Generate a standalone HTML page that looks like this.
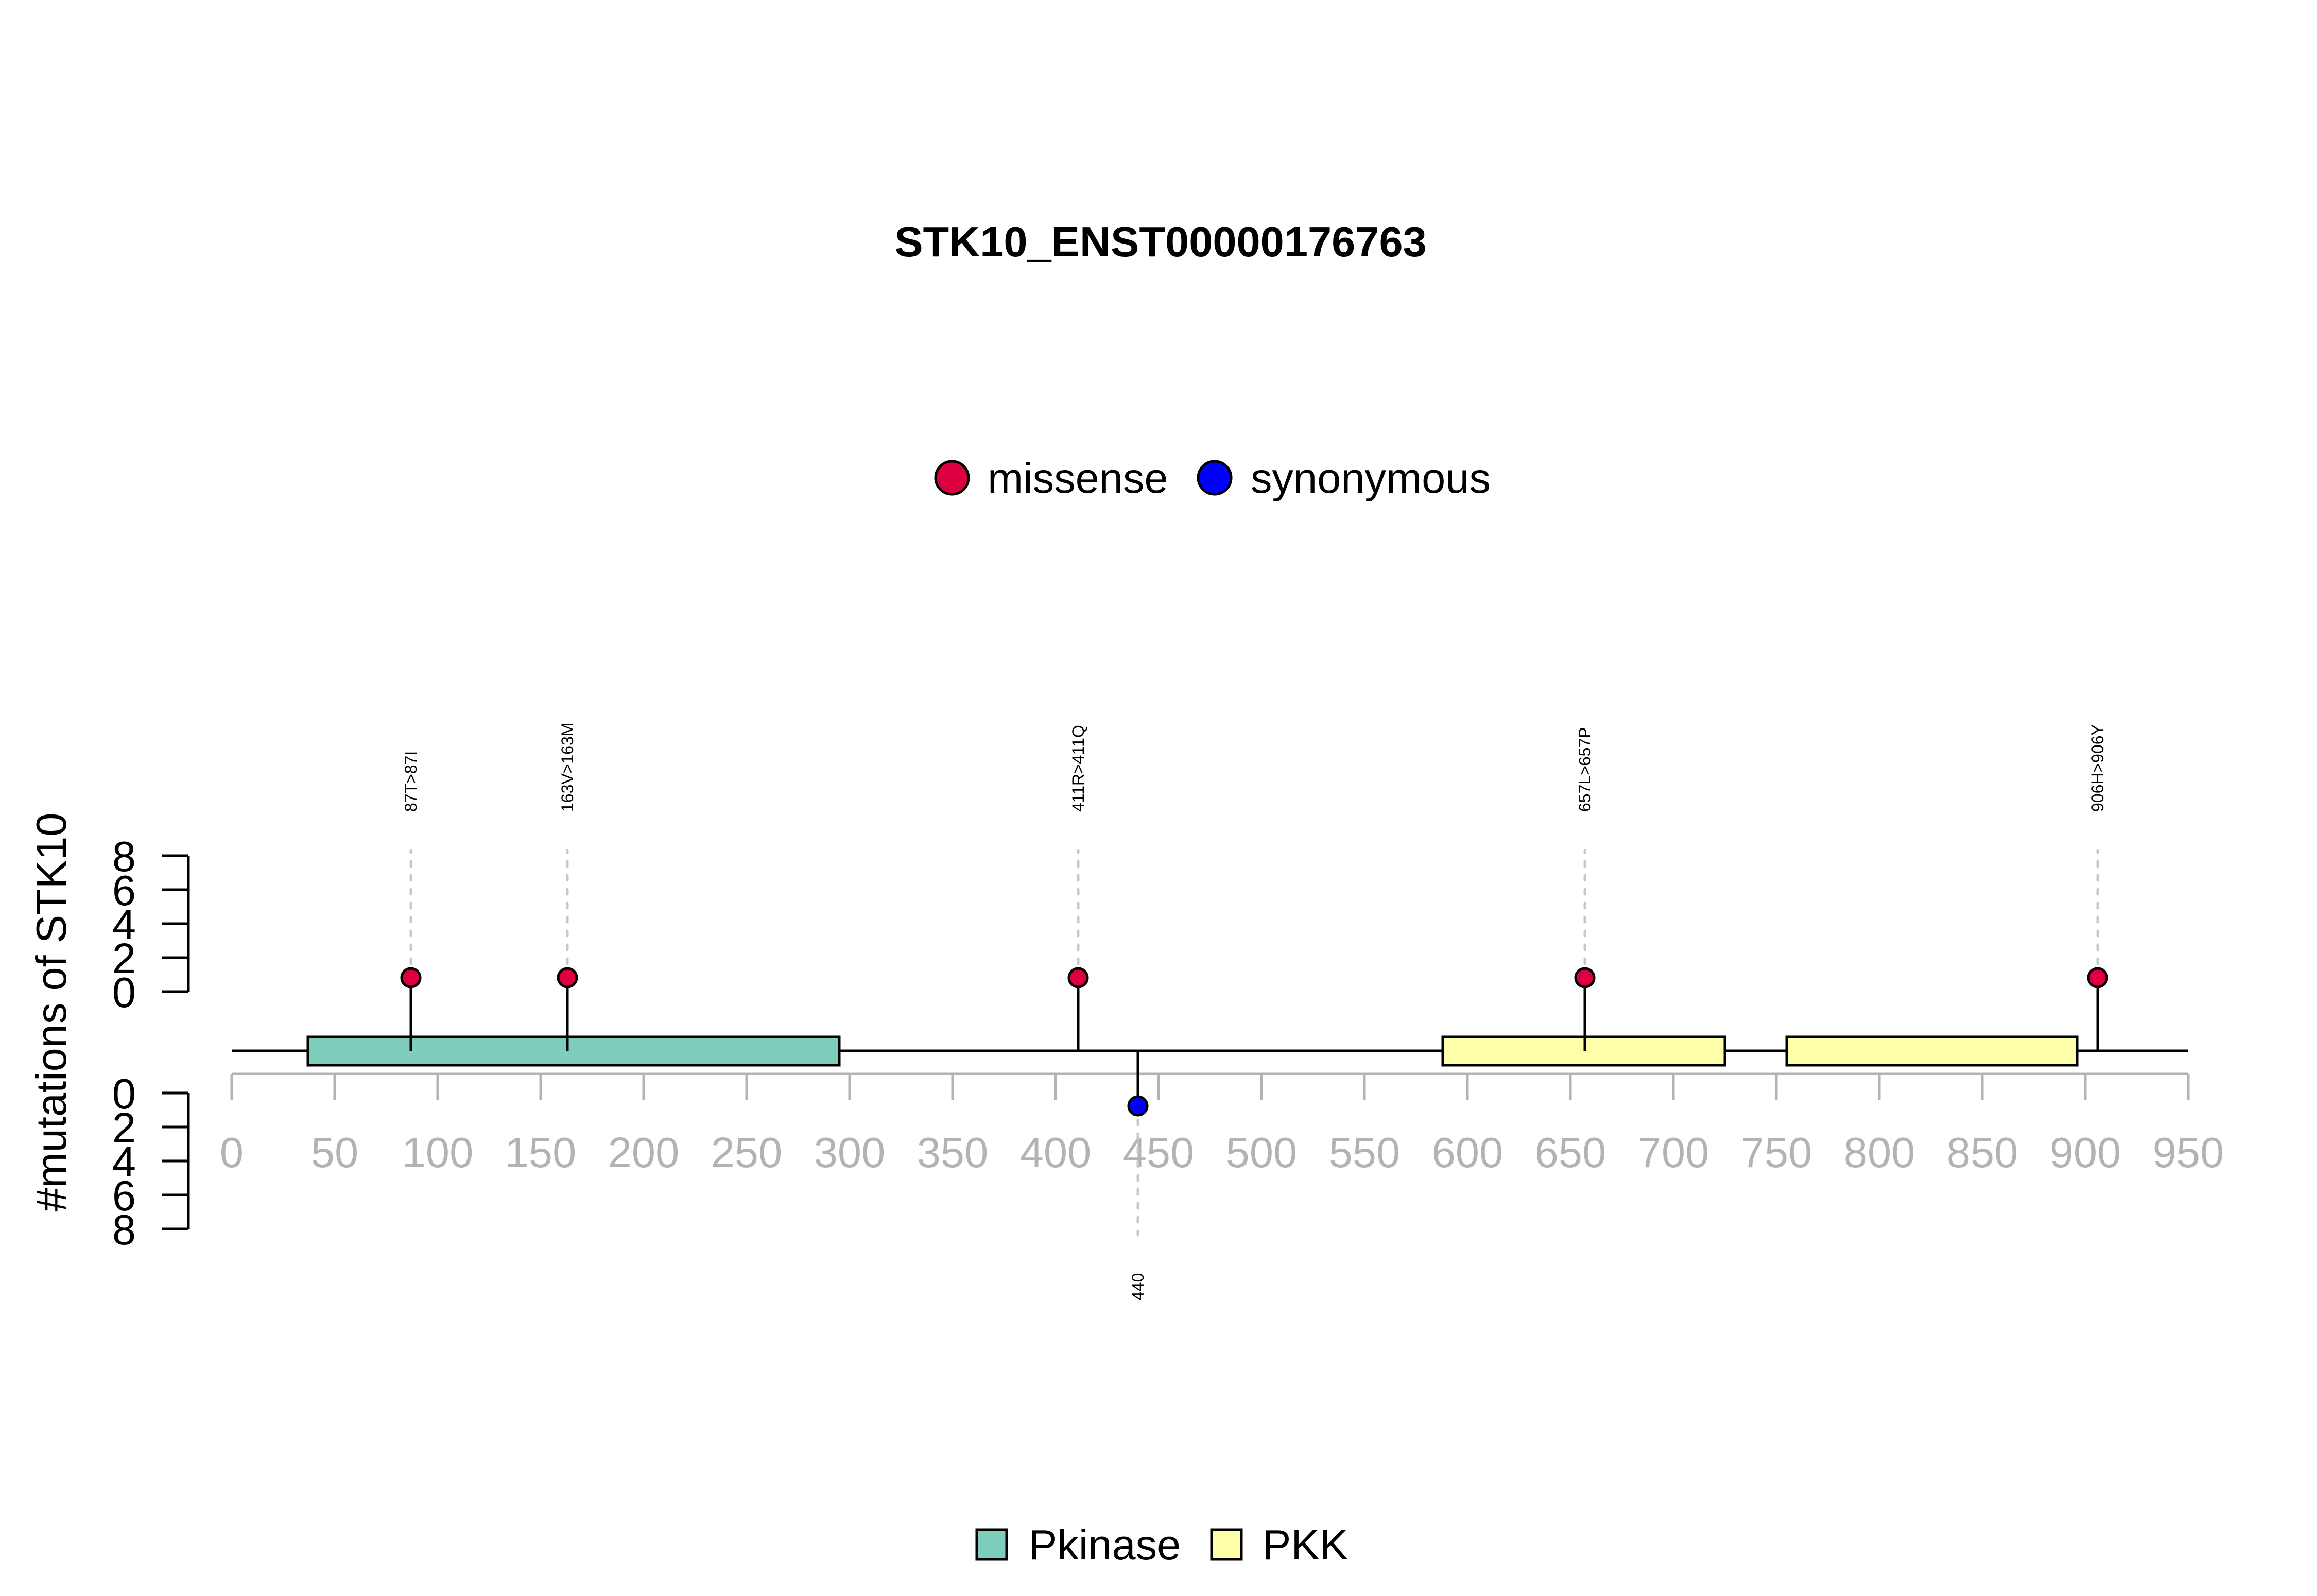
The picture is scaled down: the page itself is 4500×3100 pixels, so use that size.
<!DOCTYPE html>
<html><head><meta charset="utf-8"><style>
html,body{margin:0;padding:0;background:#fff;}
svg{display:block;font-family:"Liberation Sans",Arial,sans-serif;}
</style></head><body>
<svg id="chart" width="4500" height="3100" viewBox="0 0 4500 3100" xmlns="http://www.w3.org/2000/svg">
<rect width="4500" height="3100" fill="#fff"/>
<text x="2254" y="498" font-size="83" font-weight="bold" text-anchor="middle">STK10_ENST00000176763</text>
<g>
  <circle cx="1849" cy="928" r="32" fill="#DC0040" stroke="#000" stroke-width="5"/>
  <text x="1918" y="957" font-size="83">missense</text>
  <circle cx="2359" cy="928" r="32" fill="#0000FF" stroke="#000" stroke-width="5"/>
  <text x="2429" y="957" font-size="83">synonymous</text>
</g>
<g>
  <rect x="1897" y="2971" width="58" height="58" fill="#7FCDBB" stroke="#000" stroke-width="5"/>
  <text x="1998" y="3029" font-size="83">Pkinase</text>
  <rect x="2353" y="2971" width="58" height="58" fill="#FFFFAA" stroke="#000" stroke-width="5"/>
  <text x="2452" y="3029" font-size="83">PKK</text>
</g>
<text transform="translate(128,1966) rotate(-90)" font-size="83" text-anchor="middle">#mutations of STK10</text>
<g id="plot"></g>
</svg>
<script>
const domainNames = ["Pkinase","PKK","PKK"];
const domainStart = [37, 588, 755];
const domainEnd = [295, 725, 896];
const domainColors = ["#7FCDBB","#FFFFAA","#FFFFAA"];
const mutPos = [87, 163, 411, 657, 906, 440];
const mutCount = [1, 1, 1, 1, 1, 1];
const mutType = ["missense","missense","missense","missense","missense","synonymous"];
const mutLabel = ["87T>87I","163V>163M","411R>411Q","657L>657P","906H>906Y","440"];
const xTicks = [0,50,100,150,200,250,300,350,400,450,500,550,600,650,700,750,800,850,900,950];
const yTicks = [0,2,4,6,8];
const proteinLength = 950;

const NS = "http://www.w3.org/2000/svg";
const g = document.getElementById("plot");
const X0 = 450, PX = 4.0;
function xs(v){ return X0 + v*PX; }
const BACKBONE = 2041;
const UP0 = 1926, DOWN0 = 2123, UNIT = 33;
function yUp(v){ return UP0 - v*UNIT; }
function yDown(v){ return DOWN0 + v*UNIT; }
function mk(tag, attrs){ const e=document.createElementNS(NS,tag); for(const k in attrs) e.setAttribute(k,attrs[k]); g.appendChild(e); return e; }

// upper y axis
let e = mk("line",{x1:366,y1:yUp(0),x2:366,y2:yUp(8),stroke:"#000","stroke-width":5});


e = mk("line",{x1:366,y1:yDown(0),x2:366,y2:yDown(8),stroke:"#000","stroke-width":5});


yTicks.forEach(t=>{
  let l = mk("line",{x1:314,y1:yUp(t),x2:366,y2:yUp(t),stroke:"#000","stroke-width":5});
  
  
  let tx = mk("text",{x:241,y:yUp(t)+30,"font-size":83,"text-anchor":"middle"});
  tx.textContent = t;
  
  
  l = mk("line",{x1:314,y1:yDown(t),x2:366,y2:yDown(t),stroke:"#000","stroke-width":5});
  
  
  tx = mk("text",{x:241,y:yDown(t)+30,"font-size":83,"text-anchor":"middle"});
  tx.textContent = t;
  
  
});

// x axis
e = mk("line",{x1:xs(0),y1:2086,x2:xs(proteinLength),y2:2086,stroke:"#b3b3b3","stroke-width":5});


xTicks.forEach(t=>{
  const l = mk("line",{x1:xs(t),y1:2086,x2:xs(t),y2:2136,stroke:"#b3b3b3","stroke-width":5});
  
  
  const tx = mk("text",{x:xs(t),y:2267,"font-size":83,"text-anchor":"middle",fill:"#b3b3b3"});
  tx.textContent = t;
  
  
});

// backbone
e = mk("line",{x1:xs(0),y1:BACKBONE,x2:xs(proteinLength),y2:BACKBONE,stroke:"#000","stroke-width":5});



// domains
domainStart.forEach((s,i)=>{
  const r = mk("rect",{x:xs(s),y:2014,width:xs(domainEnd[i])-xs(s),height:55,fill:domainColors[i],stroke:"#000","stroke-width":5});
  
  
});

// mutations
mutPos.forEach((p,i)=>{
  const x = xs(p);
  const up = mutType[i]==="missense";
  const yDot = up ? yUp(mutCount[i]) + 6 : yDown(mutCount[i]) - 8;
  const dashEnd = up ? yUp(8) - 10 : yDown(8) + 12;
  const d = mk("line",{x1:x,y1:yDot,x2:x,y2:dashEnd,stroke:"#c8c8c8","stroke-width":5,"stroke-dasharray":"10 17","stroke-linecap":"round"});
  
  
  const s = mk("line",{x1:x,y1:BACKBONE,x2:x,y2:yDot,stroke:"#000","stroke-width":5});
  
  
  const c = mk("circle",{cx:x,cy:yDot,r:18,fill:up?"#DC0040":"#0000FF",stroke:"#000","stroke-width":5});
  
  
  const ly = up ? 1577 : 2526;
  const t = mk("text",{transform:"translate("+(x+11)+","+ly+") rotate(-90)","font-size":32});
  t.textContent = mutLabel[i];
  
  
});
</script>
</body></html>
